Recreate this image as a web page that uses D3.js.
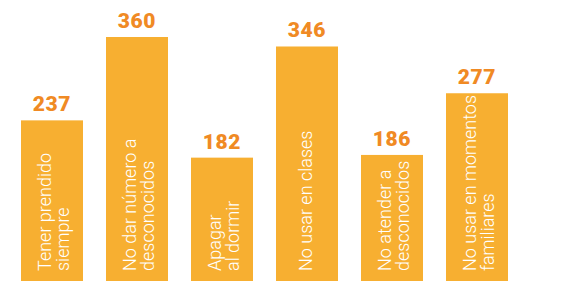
<!DOCTYPE html>
<html>
<head>
<meta charset="utf-8">
<script src="https://cdn.jsdelivr.net/npm/d3@7"></script>
<style>
  html, body { margin: 0; padding: 0; background: #fff; }
  svg { display: block; }
</style>
</head>
<body>
<script>
// data
var categories = ["tener", "noDar", "apagar", "clases", "noAtender", "familia"];
var values = [237, 360, 182, 346, 186, 277];
var labels = [
    ["Tener prendido", "siempre"],
    ["No dar número a", "desconocidos"],
    ["Apagar", "al dormir"],
    ["No usar en clases"],
    ["No atender a", "desconocidos"],
    ["No usar en momentos", "familiares"]
];

var width = 563;
var height = 281;

var svg = d3.select("body")
    .append("svg")
    .attr("width", width)
    .attr("height", height);

// bands: 62px bars on an 85px step, first bar at x=21
var x = d3.scaleBand()
    .domain(categories)
    .range([9.5, 519.5])
    .paddingInner(23 / 85)
    .paddingOuter(11.5 / 85);

var y = d3.scaleLinear()
    .domain([0, 360])
    .range([281, 37]);

var rows = categories.map(function(c, i) {
    return { cat: c, value: values[i], lines: labels[i] };
});

// bars
svg.selectAll(".bar")
    .data(rows)
    .enter()
    .append("rect")
    .attr("class", "bar")
    .attr("x", function(d) { return x(d.cat); })
    .attr("y", function(d) { return y(d.value); })
    .attr("width", x.bandwidth())
    .attr("height", function(d) { return y(0) - y(d.value); })
    .attr("fill", "#f7af31");

// value labels above the bars
svg.selectAll(".val")
    .data(rows)
    .enter()
    .append("text")
    .attr("class", "val")
    .attr("x", function(d) { return x(d.cat) + x.bandwidth() / 2; })
    .attr("y", function(d) { return y(d.value) - 9; })
    .attr("text-anchor", "middle")
    .style("font-family", "Roboto, 'Liberation Sans', sans-serif")
    .style("font-weight", "900")
    .style("font-size", "21px")
    .style("letter-spacing", "0.6px")
    .style("fill", "#f08a24")
    .text(function(d) { return d.value; });

// rotated labels inside the bars
var inner = svg.selectAll(".inner")
    .data(rows)
    .enter()
    .append("text")
    .attr("class", "inner")
    .attr("transform", function(d) {
        var cx = x(d.cat) + x.bandwidth() / 2;
        return "translate(" + cx + ",271) rotate(-90)";
    })
    .style("font-family", "Roboto, 'Liberation Sans', sans-serif")
    .style("font-weight", "300")
    .style("font-size", "18px")
    .style("fill", "#fff");

inner.selectAll("tspan")
    .data(function(d) {
        var n = d.lines.length;
        return d.lines.map(function(t, i) {
            return { text: t, dy: 5 - (n - 1) * 6 + i * 18 };
        });
    })
    .enter()
    .append("tspan")
    .attr("x", 0)
    .attr("y", function(d) { return d.dy; })
    .text(function(d) { return d.text; });
</script>
</body>
</html>
